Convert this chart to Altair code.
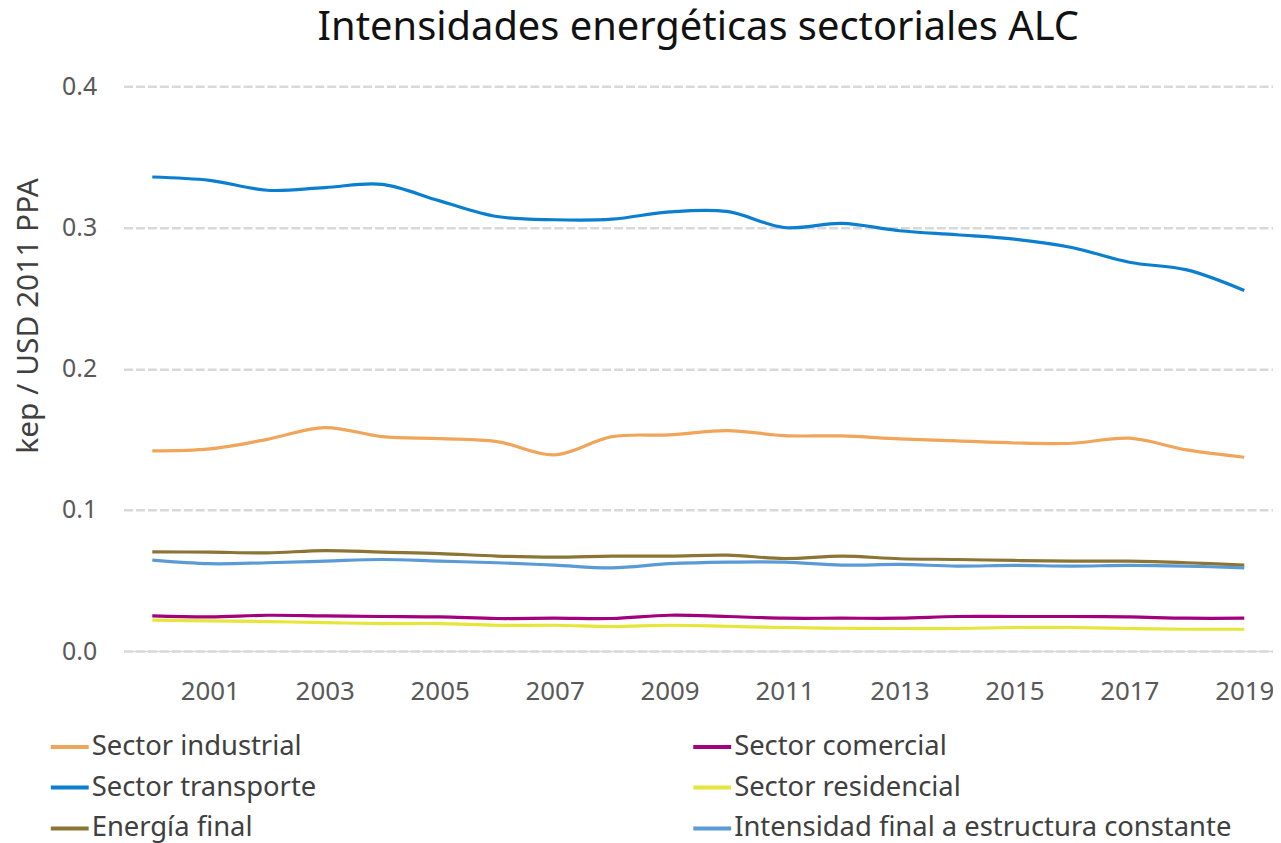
import altair as alt
import pandas as pd

years = list(range(2000, 2020))

industrial = [0.1418, 0.1432, 0.1500, 0.1583, 0.1519, 0.1505, 0.1484, 0.1390, 0.1519, 0.1531,
              0.1562, 0.1526, 0.1524, 0.1503, 0.1489, 0.1474, 0.1472, 0.1508, 0.1425, 0.1373]
transporte = [0.3358, 0.3334, 0.3264, 0.3283, 0.3306, 0.3189, 0.3078, 0.3055, 0.3059, 0.3111,
              0.3114, 0.3000, 0.3029, 0.2977, 0.2949, 0.2918, 0.2859, 0.2754, 0.2700, 0.2554]
energia_final = [0.0703, 0.0701, 0.0696, 0.0712, 0.0701, 0.0691, 0.0673, 0.0666, 0.0673, 0.0673,
                 0.0680, 0.0656, 0.0673, 0.0654, 0.0649, 0.0642, 0.0637, 0.0637, 0.0626, 0.0609]
comercial = [0.0249, 0.0242, 0.0254, 0.0249, 0.0245, 0.0242, 0.0231, 0.0233, 0.0231, 0.0254,
             0.0245, 0.0233, 0.0233, 0.0233, 0.0245, 0.0245, 0.0245, 0.0242, 0.0233, 0.0233]
residencial = [0.0219, 0.0214, 0.0209, 0.0202, 0.0195, 0.0195, 0.0183, 0.0183, 0.0174, 0.0183,
               0.0176, 0.0167, 0.0162, 0.0160, 0.0160, 0.0167, 0.0167, 0.0160, 0.0155, 0.0155]
constante = [0.0644, 0.0619, 0.0626, 0.0637, 0.0649, 0.0637, 0.0626, 0.0609, 0.0590, 0.0619,
             0.0630, 0.0630, 0.0609, 0.0614, 0.0602, 0.0607, 0.0602, 0.0607, 0.0602, 0.0590]

# legend order (column-major: left column first, then right column)
series_names = ["Sector industrial", "Sector transporte", "Energía final",
                "Sector comercial", "Sector residencial", "Intensidad final a estructura constante"]
series_colors = ["#F0A55A", "#0A7FD0", "#8C7534", "#A2007C", "#E6E63A", "#5B9BD5"]
series_values = [industrial, transporte, energia_final, comercial, residencial, constante]

x_ticks = list(range(2001, 2020, 2))
y_ticks = [0.0, 0.1, 0.2, 0.3, 0.4]

rows = []
for name, vals in zip(series_names, series_values):
    for y, v in zip(years, vals):
        rows.append({"Año": y, "Serie": name, "Valor": v})
df = pd.DataFrame(rows)

W, H = 1154, 567

lines = alt.Chart(df).mark_line(strokeWidth=3.2, interpolate="catmull-rom").encode(
    x=alt.X("Año:Q",
            scale=alt.Scale(domain=[1999.5, 2019.5], nice=False, zero=False),
            axis=alt.Axis(values=x_ticks, format="d", title=None, grid=False, ticks=False,
                          domain=True, domainColor="#D9D9D9", domainWidth=1.5,
                          labelFont="Noto Sans", labelFontSize=26, labelColor="#595959",
                          labelPadding=28)),
    y=alt.Y("Valor:Q",
            scale=alt.Scale(domain=[0, 0.4], nice=False),
            axis=alt.Axis(values=y_ticks, format=".1f", title="kep / USD 2011 PPA",
                          grid=True, gridColor="#D9D9D9", gridWidth=2.5, gridDash=[9, 3],
                          ticks=False, domain=False,
                          labelFont="Noto Sans", labelFontSize=25, labelColor="#595959",
                          labelPadding=27,
                          titleFont="Noto Sans", titleFontSize=30, titleFontWeight="normal",
                          titleColor="#404040", titleX=-95, titleY=230, titleAngle=-90,
                          titleAlign="center", titleBaseline="middle")),
    color=alt.Color("Serie:N",
                    scale=alt.Scale(domain=series_names, range=series_colors),
                    sort=series_names,
                    legend=alt.Legend(title=None, orient="none", legendX=-75, legendY=642,
                                      columns=2, columnPadding=370, rowPadding=6,
                                      symbolType="stroke", symbolSize=1444,
                                      symbolStrokeWidth=4, labelOffset=1,
                                      labelFont="Noto Sans", labelFontSize=27.5,
                                      labelColor="#404040", labelLimit=700)),
)

chart = lines.properties(
    width=W, height=H,
    title=alt.TitleParams("Intensidades energéticas sectoriales ALC", font="Noto Sans",
                          fontSize=40, fontWeight="normal", color="#111111",
                          anchor="middle", offset=27),
    autosize=alt.AutoSizeParams(type="none"),
    padding={"left": 116, "top": 77, "right": 0, "bottom": 191},
).configure_view(stroke=None)

chart.save("out.html", embed_options={"renderer": "svg", "actions": False})
